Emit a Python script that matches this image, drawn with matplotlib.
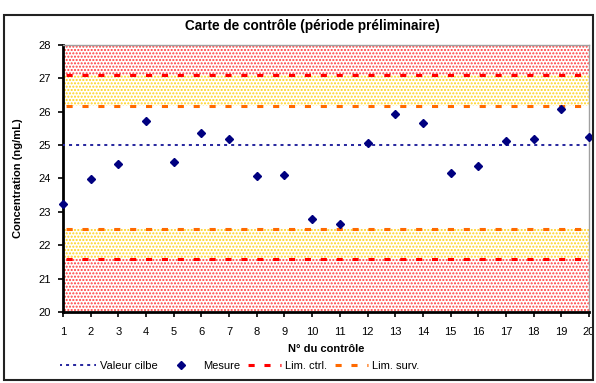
import matplotlib
matplotlib.use('Agg')
import matplotlib.pyplot as plt
from matplotlib.patches import Rectangle
from matplotlib.lines import Line2D
import numpy as np

plt.rcParams['font.family'] = ['Liberation Sans', 'DejaVu Sans']

controles = list(range(1, 21))
mesures = [23.24, 23.99, 24.43, 25.71, 24.49, 25.36, 25.18, 24.08, 24.11, 22.78,
           22.64, 25.05, 25.92, 25.65, 24.16, 24.36, 25.12, 25.18, 26.08, 25.23]
valeur_cible = 25.0
lim_ctrl = [21.6, 27.1]
lim_surv = [22.5, 26.16]
y_min, y_max = 20, 28

fig = plt.figure(figsize=(5.96, 3.83), dpi=100)
ax = fig.add_axes([63 / 596, 1 - 312 / 383, 526 / 596, 267 / 383])

# zones hors controle et de surveillance (motif pointille)
ax.axhspan(lim_ctrl[1], y_max, facecolor='white', edgecolor='#ff3b3b', hatch='.....', linewidth=0)
ax.axhspan(y_min, lim_ctrl[0], facecolor='white', edgecolor='#ff3b3b', hatch='.....', linewidth=0)
ax.axhspan(lim_surv[1], lim_ctrl[1], facecolor='white', edgecolor='#ffd21a', hatch='.....', linewidth=0)
ax.axhspan(lim_ctrl[0], lim_surv[0], facecolor='white', edgecolor='#ffd21a', hatch='.....', linewidth=0)

x_lim = [controles[0], controles[-1]]
cible_style = dict(color='#2a2aa0', lw=1.45, ls=(0.5, (1.5, 2.0)))
ctrl_style = dict(color='#ff0000', lw=2.2, ls=(-1.0, (2.0, 3.2)))
surv_style = dict(color='#ff6a00', lw=2.2, ls=(-1.0, (2.0, 3.2)))

ax.plot(x_lim, [valeur_cible] * 2, zorder=3, **cible_style)
for v in lim_ctrl:
    ax.plot(x_lim, [v] * 2, zorder=3, **ctrl_style)
for v in lim_surv:
    ax.plot(x_lim, [v] * 2, zorder=3, **surv_style)

ax.plot(controles, mesures, ls='none', marker='D', color='#000080', ms=4.5, zorder=4, clip_on=False)

ax.set_xlim(x_lim)
ax.set_ylim(y_min, y_max)
ax.set_xticks(controles)
ax.set_yticks(np.arange(y_min, y_max + 1))
ax.tick_params(labelsize=8, length=3.5, width=1.2, direction='out', pad=5)
ax.tick_params(axis='x', pad=7)

for s in ['left', 'bottom']:
    ax.spines[s].set_linewidth(2)
    ax.spines[s].set_color('black')
for s in ['top', 'right']:
    ax.spines[s].set_linewidth(1)
    ax.spines[s].set_color('#a0a0a0')

ax.set_xlabel('N° du contrôle', fontsize=8, fontweight='bold', labelpad=5)
ax.set_ylabel('Concentration (ng/mL)', fontsize=8, fontweight='bold', labelpad=11)
fig.text(312 / 596, 1 - 26 / 383, 'Carte de contrôle (période préliminaire)',
         fontsize=9.8, fontweight='bold', ha='center', va='center')

handles = [
    Line2D([], [], **cible_style),
    Line2D([], [], ls='none', marker='D', color='#000080', ms=4.5),
    Line2D([], [], **ctrl_style),
    Line2D([], [], **surv_style),
]
labels = ['Valeur cilbe', 'Mesure', 'Lim. ctrl.', 'Lim. surv.']
fig.legend(handles, labels, loc='center', bbox_to_anchor=(240 / 596, 1 - 366 / 383), ncol=4,
           frameon=False, fontsize=8, handlelength=3.2, handletextpad=0.4, columnspacing=0.45)

# cadre exterieur
fig.patches.append(Rectangle((4 / 596, 1 - 380 / 383), 589 / 596, 365 / 383,
                             transform=fig.transFigure, fill=False, edgecolor='#222222', lw=1.5))

fig.savefig('out.png', dpi=100)
